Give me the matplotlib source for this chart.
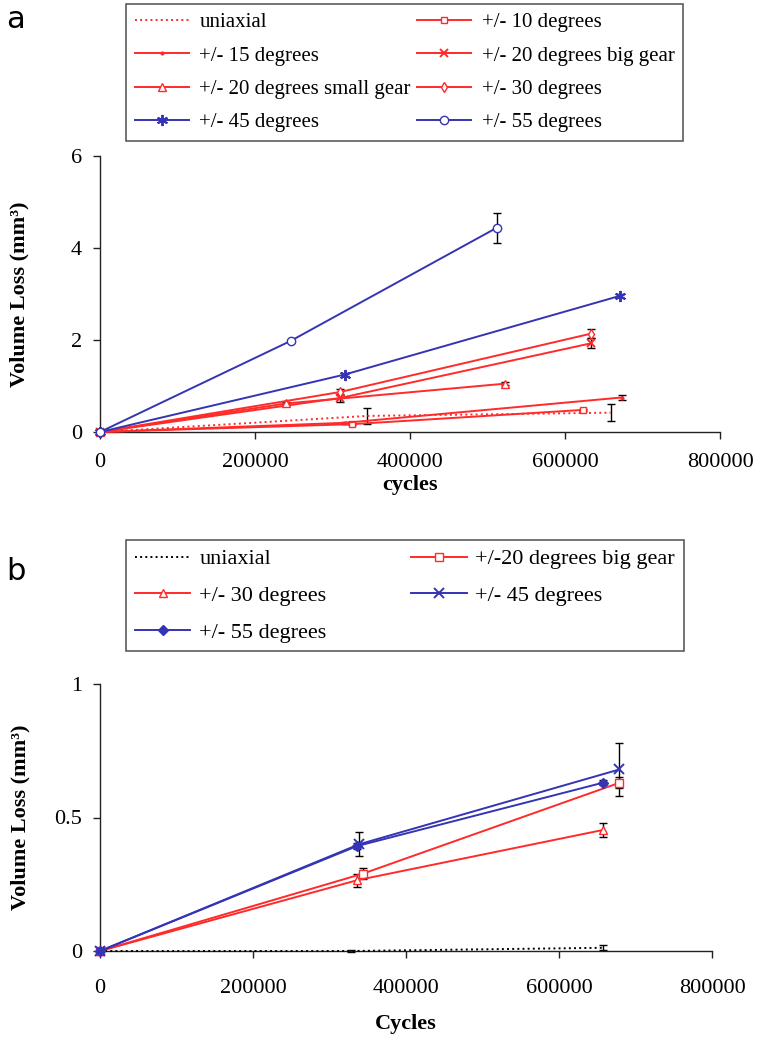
import matplotlib
matplotlib.use("Agg")
import matplotlib.pyplot as plt
from matplotlib.ticker import FixedLocator

# ---------------- data: panel a ----------------
labels_a = ["uniaxial", "+/- 10 degrees", "+/- 15 degrees", "+/- 20 degrees big gear",
            "+/- 20 degrees small gear", "+/- 30 degrees", "+/- 45 degrees", "+/- 55 degrees"]
cycles_a_uni = [0, 345000, 659000]
vol_a_uni = [0, 0.35, 0.42]
err_a_uni = [0, 0.18, 0.18]
cycles_a_10 = [0, 325000, 623000]
vol_a_10 = [0, 0.17, 0.48]
err_a_10 = [0, 0.02, 0.03]
cycles_a_15 = [0, 316000, 673000]
vol_a_15 = [0, 0.20, 0.75]
err_a_15 = [0, 0.02, 0.05]
cycles_a_20big = [0, 310000, 634000]
vol_a_20big = [0, 0.74, 1.93]
err_a_20big = [0, 0.08, 0.11]
cycles_a_20small = [0, 240000, 522000]
vol_a_20small = [0, 0.62, 1.05]
err_a_20small = [0, 0.03, 0.03]
cycles_a_30 = [0, 310000, 634000]
vol_a_30 = [0, 0.87, 2.14]
err_a_30 = [0, 0.06, 0.10]
cycles_a_45 = [0, 316000, 671000]
vol_a_45 = [0, 1.25, 2.96]
err_a_45 = [0, 0.03, 0.03]
cycles_a_55 = [0, 246000, 512000]
vol_a_55 = [0, 1.98, 4.44]
err_a_55 = [0, 0.02, 0.33]

# ---------------- data: panel b ----------------
labels_b = ["uniaxial", "+/-20 degrees big gear", "+/- 30 degrees", "+/- 45 degrees", "+/- 55 degrees"]
cycles_b_uni = [0, 328000, 657000]
vol_b_uni = [0, 0.0, 0.012]
err_b_uni = [0, 0.003, 0.01]
cycles_b_20big = [0, 344000, 679000]
vol_b_20big = [0, 0.29, 0.63]
err_b_20big = [0, 0.02, 0.02]
cycles_b_30 = [0, 336000, 657000]
vol_b_30 = [0, 0.265, 0.453]
err_b_30 = [0, 0.025, 0.025]
cycles_b_45 = [0, 339000, 679000]
vol_b_45 = [0, 0.40, 0.68]
err_b_45 = [0, 0.045, 0.10]
cycles_b_55 = [0, 336000, 657000]
vol_b_55 = [0, 0.393, 0.63]
err_b_55 = [0, 0.01, 0.01]

xticks = [0, 200000, 400000, 600000, 800000]
yticks_a = [0, 2, 4, 6]
yticks_b = [0, 0.5, 1]
yticklabels_b = ["0", "0.5", "1"]

RED = "#ff2a2a"
BLUE = "#3434b4"

plt.rcParams["font.family"] = ["Liberation Serif", "DejaVu Serif"]

fig = plt.figure(figsize=(7.59, 10.43), dpi=100)
W, H = 759, 1043


def axes_px(x0, x1, ytop, ybot):
    return fig.add_axes([x0 / W, 1 - ybot / H, (x1 - x0) / W, (ybot - ytop) / H])


def series(ax, x, y, e, color, ls, marker, ms, mfc, label, mew=1.0):
    ax.errorbar(x, y, yerr=e, fmt="none", ecolor="black", elinewidth=1.0,
                capsize=3, capthick=1.0, zorder=2, clip_on=False)
    line, = ax.plot(x, y, color=color, ls=ls, lw=1.4, marker=marker, ms=ms,
                    mfc=mfc, mec=color, mew=mew, label=label, zorder=3, clip_on=False)
    return line


def style_axes(ax, ymax, yticks, yticklabels, xpad):
    ax.set_xlim(0, 800000)
    ax.set_ylim(0, ymax)
    for s in ("top", "right"):
        ax.spines[s].set_visible(False)
    for s in ("left", "bottom"):
        ax.spines[s].set_linewidth(1.0)
        ax.spines[s].set_color("#222222")
    ax.xaxis.set_major_locator(FixedLocator(xticks))
    ax.set_xticklabels([str(v) for v in xticks])
    ax.yaxis.set_major_locator(FixedLocator(yticks))
    ax.set_yticklabels(yticklabels)
    ax.tick_params(direction="out", length=5, width=1.0, labelsize=16,
                   color="#222222")
    ax.tick_params(axis="x", pad=xpad)
    ax.tick_params(axis="y", pad=8)


# ---------------- panel a ----------------
axa = axes_px(100, 720, 156, 432)
h_uni = series(axa, cycles_a_uni, vol_a_uni, err_a_uni, RED, ":", None, 0, "none", labels_a[0])
h_10 = series(axa, cycles_a_10, vol_a_10, err_a_10, RED, "-", "s", 5, "white", labels_a[1])
h_15 = series(axa, cycles_a_15, vol_a_15, err_a_15, RED, "-", ".", 4, RED, labels_a[2])
h_20b = series(axa, cycles_a_20big, vol_a_20big, err_a_20big, RED, "-", "x", 6, RED, labels_a[3], 1.4)
h_20s = series(axa, cycles_a_20small, vol_a_20small, err_a_20small, RED, "-", "^", 6, "white", labels_a[4])
h_30 = series(axa, cycles_a_30, vol_a_30, err_a_30, RED, "-", "d", 5, "white", labels_a[5])
h_45 = series(axa, cycles_a_45, vol_a_45, err_a_45, BLUE, "-", (6, 2, 0), 8, BLUE, labels_a[6], 1.4)
h_55 = series(axa, cycles_a_55, vol_a_55, err_a_55, BLUE, "-", "o", 6, "white", labels_a[7])
style_axes(axa, 6, yticks_a, [str(v) for v in yticks_a], xpad=10)
axa.set_xlabel("cycles", fontsize=16, fontweight="bold", labelpad=2)
axa.set_ylabel("Volume Loss (mm³)", fontsize=16, fontweight="bold")
axa.yaxis.set_label_coords(-0.113, 0.5)

order_a = [h_uni, h_15, h_20s, h_45, h_10, h_20b, h_30, h_55]
leg_a = fig.legend(handles=order_a, labels=[h.get_label() for h in order_a], ncol=2,
                   loc="upper left", bbox_to_anchor=(126 / W, 1 - 4 / H),
                   fontsize=15, frameon=True, fancybox=False, edgecolor="#333333",
                   handlelength=2.6, handletextpad=0.5, columnspacing=0.3,
                   labelspacing=0.66, borderpad=0.42, borderaxespad=0)
leg_a.get_frame().set_linewidth(1.2)

# ---------------- panel b ----------------
axb = axes_px(100, 712, 684, 951)
g_uni = series(axb, cycles_b_uni, vol_b_uni, err_b_uni, "black", ":", None, 0, "none", labels_b[0])
g_20b = series(axb, cycles_b_20big, vol_b_20big, err_b_20big, RED, "-", "s", 6, "white", labels_b[1])
g_30 = series(axb, cycles_b_30, vol_b_30, err_b_30, RED, "-", "^", 6, "white", labels_b[2])
g_45 = series(axb, cycles_b_45, vol_b_45, err_b_45, BLUE, "-", "x", 7, BLUE, labels_b[3], 1.4)
g_55 = series(axb, cycles_b_55, vol_b_55, err_b_55, BLUE, "-", "D", 5, BLUE, labels_b[4])
style_axes(axb, 1, yticks_b, yticklabels_b, xpad=15)
axb.set_xlabel("Cycles", fontsize=16, fontweight="bold", labelpad=12)
axb.set_ylabel("Volume Loss (mm³)", fontsize=16, fontweight="bold")
axb.yaxis.set_label_coords(-0.114, 0.5)

order_b = [g_uni, g_30, g_55, g_20b, g_45]
leg_b = fig.legend(handles=order_b, labels=[h.get_label() for h in order_b], ncol=2,
                   loc="upper left", bbox_to_anchor=(126 / W, 1 - 540 / H),
                   fontsize=16, frameon=True, fancybox=False, edgecolor="#333333",
                   handlelength=2.5, handletextpad=0.4, columnspacing=3.8,
                   labelspacing=0.72, borderpad=0.4, borderaxespad=0)
leg_b.get_frame().set_linewidth(1.2)

# panel letters
fig.text(6 / W, 1 - 28 / H, "a", fontsize=22, family="DejaVu Sans", ha="left", va="baseline")
fig.text(6 / W, 1 - 580 / H, "b", fontsize=22, family="DejaVu Sans", ha="left", va="baseline")

fig.savefig("out.png", dpi=100)
